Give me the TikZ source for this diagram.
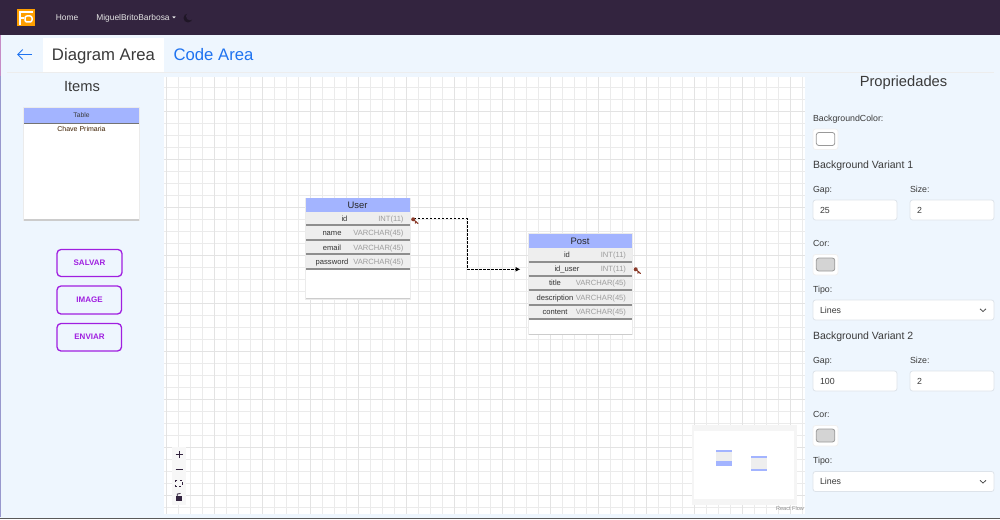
\documentclass[tikz,border=0pt]{standalone}
\usepackage{fontspec}
\setmainfont{Liberation Sans}
\definecolor{navbg}{HTML}{33243F}
\definecolor{panelbg}{HTML}{EEF6FE}
\definecolor{headbg}{HTML}{A3B4FF}
\definecolor{rowbg}{HTML}{EEEEEE}
\definecolor{rowsep}{HTML}{8E8E8E}
\definecolor{typegray}{HTML}{9C9C9C}
\definecolor{inktext}{HTML}{3A3A3A}
\definecolor{linkblue}{HTML}{1F73F0}
\definecolor{btnpurple}{HTML}{A01FE0}
\definecolor{fieldline}{HTML}{DDE3EA}
\definecolor{keyred}{HTML}{8A3B2A}
\newcommand{\px}[1]{\fontsize{#1}{#1}\selectfont}
\tikzset{
  txt/.style={inner sep=0pt, outer sep=0pt, anchor=mid, text=inktext},
  lefttxt/.style={txt, anchor=mid west},
  box/.style={inner sep=0pt, outer sep=0pt, anchor=north west},
  tabtxt/.style={txt, font=\px{16.7}, yshift=-3pt},
  titletxt/.style={txt, font=\px{14.7}, yshift=-3pt},
  vartxt/.style={lefttxt, font=\px{10.5}, yshift=-2pt},
  rowname/.style={txt, font=\px{7.6}, text=black!80, yshift=-.7pt},
  rowtype/.style={txt, anchor=mid east, font=\px{7.6}, text=typegray, yshift=-.7pt},
  headtxt/.style={txt, font=\px{9.4}, text=black!85, yshift=-1pt},
  fieldlabel/.style={lefttxt, font=\px{8.8}, yshift=-.8pt},
  fieldvalue/.style={lefttxt, font=\px{8.8}, yshift=-.5pt},
  fieldbox/.style={draw=fieldline, line width=.8pt, fill=white, rounded corners=2.5pt},
  btnbox/.style={draw=btnpurple, line width=1.3pt, fill=panelbg, rounded corners=4pt},
  btntxt/.style={txt, font=\px{8}\bfseries, text=btnpurple},
  softedge/.style={box, fill=black!8},
  softcore/.style={box, fill=black!20},
  tblline/.style={rowsep, line width=1.5pt},
  key/.style={keyred, line width=1.1pt, line cap=round},
  relation/.style={black, line width=1.2pt, dash pattern=on 2.2pt off 1.8pt, -{Latex[length=5pt,width=5pt]}},
}
\usetikzlibrary{arrows.meta}
\begin{document}
\begin{tikzpicture}[x=1pt,y=-1pt]
\useasboundingbox (0,0) rectangle (1000,519);
% page
\fill[panelbg] (0,0) rectangle (1000,519);
\fill[navbg] (0,0) rectangle (1000,35);
\fill[black!65] (0,517.5) rectangle (1000,519);
\fill[violet!45] (0,35) rectangle (1,76);
\fill[blue!35!gray!60] (0,76) rectangle (1,517);
% navbar
\fill[orange!75!yellow] (17,9) rectangle (35,26);
\draw[white, line width=1.5pt] (33,12) -- (20,12) -- (20,25);
\draw[white, line width=1.5pt] (20,18) -- (24,18);
\draw[white, line width=1.5pt, rounded corners=2pt] (25,16) -- (32,16) -- (32,22) -- (25,22) -- cycle;
\node[txt, font=\px{8.4}, text=white!90!black] (nhome) at (67,17.5) {Home};
\node[txt, font=\px{8.4}, text=white!90!black] (nuser) at (133,17.5) {MiguelBritoBarbosa};
\fill[white!90!black] (172.3,16.5) -- (175.7,16.5) -- (174,18.5) -- cycle;
\fill[black!40!navbg] (188,18) circle (4.5pt);
\fill[navbg] (190,16.3) circle (4pt);
% tabs
\draw[black!7, line width=.6pt] (7,72) -- (994,72);
\node[box, fill=white, minimum width=121pt, minimum height=34pt] (tdiagram) at (43,38) {};
\node[tabtxt] (ldiagram) at (103.5,55) {Diagram Area};
\node[tabtxt, text=linkblue] (lcode) at (213.5,55) {Code Area};
\coordinate (backr) at (32,54.5);
\coordinate (backl) at (17,54.5);
\draw[linkblue, line width=1pt, -{Straight Barb[length=5pt,width=10pt]}] (backr) -- (backl);
% items
\node[titletxt] (litems) at (82,86) {Items};
\node[softedge, minimum width=117pt, minimum height=113.5pt] (cardedge) at (23,107) {};
\node[softcore, minimum width=115pt, minimum height=112.5pt] (cardshadow) at (24,108) {};
\node[box, fill=white, minimum width=115pt, minimum height=111.5pt] (card) at (24,107.5) {};
\node[box, fill=headbg, minimum width=115pt, minimum height=15.5pt] (cardhead) at (24,107.5) {};
\draw[black!55, line width=1pt] (cardhead.south west) -- (cardhead.south east);
\node[txt, font=\px{6.7}] (lcardhead) at (81.5,114.5) {Table};
\node[txt, font=\px{7}, text=black!70!orange!80!black] (lcardkey) at (81.5,128.5) {Chave Primaria};
\node[box, btnbox, minimum width=65pt, minimum height=27pt] (bsalvar) at (57,249.5) {};
\node[btntxt] (lsalvar) at (89.5,262.5) {SALVAR};
\node[box, btnbox, minimum width=64.5pt, minimum height=28pt] (bimage) at (57,286) {};
\node[btntxt] (limage) at (89.5,299.5) {IMAGE};
\node[box, btnbox, minimum width=64.5pt, minimum height=27.5pt] (benviar) at (57,323.5) {};
\node[btntxt] (lenviar) at (89.5,337) {ENVIAR};
% canvas
\node[box, fill=white, minimum width=641pt, minimum height=437pt] (canvas) at (164,77) {};
\begin{scope}
\clip (canvas.north west) rectangle (canvas.south east);
\foreach \gx in {166.5,178.5,...,803}
  \draw[black!8, line width=1.2pt] (\gx,77) -- (\gx,514);
\foreach \gy in {75.5,87.5,...,510}
  \draw[black!8, line width=1.2pt] (164,\gy) -- (805,\gy);
\foreach \gx in {166.5,214.5,...,803}
  \draw[black!11, line width=1.5pt] (\gx,77) -- (\gx,514);
\foreach \gy in {111.5,159.5,...,510}
  \draw[black!11, line width=1.5pt] (164,\gy) -- (805,\gy);
\end{scope}
% table user
\node[softedge, minimum width=105.5pt, minimum height=102pt] (uedge) at (305,197.5) {};
\node[softcore, minimum width=103.5pt, minimum height=101pt] (ushadow) at (306,198) {};
\node[box, fill=white, minimum width=103.5pt, minimum height=100.2pt] (utable) at (306,198) {};
\node[box, fill=headbg, minimum width=103.5pt, minimum height=14pt] (uhead) at (306,198) {};
\node[headtxt] (luser) at (357.5,205) {User};
\node[box, fill=rowbg, minimum width=103.5pt, minimum height=13pt] (urow0) at (306,212) {};
\node[box, fill=rowbg, minimum width=103.5pt, minimum height=13pt] (urow1) at (306,226) {};
\node[box, fill=rowbg, minimum width=103.5pt, minimum height=13pt] (urow2) at (306,241) {};
\node[box, fill=rowbg, minimum width=103.5pt, minimum height=13pt] (urow3) at (306,255) {};
\draw[tblline] (306,225) -- (409.5,225);
\draw[tblline] (306,240) -- (409.5,240);
\draw[tblline] (306,254) -- (409.5,254);
\draw[tblline] (306,269) -- (409.5,269);
\node[rowname] (un0) at (344.5,218) {id};
\node[rowtype] (ut0) at (403.5,218) {INT(11)};
\node[rowname] (un1) at (332,232.5) {name};
\node[rowtype] (ut1) at (403.5,232.5) {VARCHAR(45)};
\node[rowname] (un2) at (332,247) {email};
\node[rowtype] (ut2) at (403.5,247) {VARCHAR(45)};
\node[rowname] (un3) at (332,261) {password};
\node[rowtype] (ut3) at (403.5,261) {VARCHAR(45)};
% table post
\node[softedge, minimum width=105.5pt, minimum height=102pt] (pedge) at (527.5,233) {};
\node[softcore, minimum width=103.5pt, minimum height=101pt] (pshadow) at (528.5,233.5) {};
\node[box, fill=white, minimum width=103.5pt, minimum height=100.2pt] (ptable) at (528.5,233.5) {};
\node[box, fill=headbg, minimum width=103.5pt, minimum height=14pt] (phead) at (528.5,233.5) {};
\node[headtxt] (lpost) at (580,241) {Post};
\node[box, fill=rowbg, minimum width=103.5pt, minimum height=13pt] (prow0) at (528.5,247.5) {};
\node[box, fill=rowbg, minimum width=103.5pt, minimum height=13pt] (prow1) at (528.5,262) {};
\node[box, fill=rowbg, minimum width=103.5pt, minimum height=13pt] (prow2) at (528.5,277) {};
\node[box, fill=rowbg, minimum width=103.5pt, minimum height=13pt] (prow3) at (528.5,291) {};
\node[box, fill=rowbg, minimum width=103.5pt, minimum height=13pt] (prow4) at (528.5,306) {};
\draw[tblline] (528.5,262) -- (632,262);
\draw[tblline] (528.5,276) -- (632,276);
\draw[tblline] (528.5,290) -- (632,290);
\draw[tblline] (528.5,305) -- (632,305);
\draw[tblline] (528.5,319) -- (632,319);
\node[rowname] (pn0) at (567,254) {id};
\node[rowtype] (pt0) at (626,254) {INT(11)};
\node[rowname] (pn1) at (567,268) {id\_user};
\node[rowtype] (pt1) at (626,268) {INT(11)};
\node[rowname] (pn2) at (555,282.5) {title};
\node[rowtype] (pt2) at (626,282.5) {VARCHAR(45)};
\node[rowname] (pn3) at (555,297) {description};
\node[rowtype] (pt3) at (626,297) {VARCHAR(45)};
\node[rowname] (pn4) at (555,311) {content};
\node[rowtype] (pt4) at (626,311) {VARCHAR(45)};
% relation
\coordinate (hsource) at (414,218.7);
\coordinate (hmiddle) at (467.3,244);
\coordinate (htarget) at (520.5,269.3);
\draw[relation] (hsource) -| (hmiddle) |- (htarget);
\fill[keyred] (413.2,219.3) circle (2pt);
\draw[key] (414,220) -- (418,223.5);
\draw[key] (416,222) -- (415.2,223.2);
\fill[keyred] (635.7,269.3) circle (2pt);
\draw[key] (636.5,270) -- (640.5,273.5);
\draw[key] (638.5,272) -- (637.7,273.2);
% controls
\node[box, fill=white!97!black, minimum width=14pt, minimum height=58pt] (ctrls) at (172,447) {};
\coordinate (cplus) at (179,454.5);
\draw[navbg, line width=1pt] ([xshift=-3.5pt]cplus) -- ([xshift=3.5pt]cplus);
\draw[navbg, line width=1pt] ([yshift=-3.5pt]cplus) -- ([yshift=3.5pt]cplus);
\coordinate (cminus) at (179,469);
\draw[navbg, line width=1pt] ([xshift=-3.5pt]cminus) -- ([xshift=3.5pt]cminus);
\draw[navbg, line width=1pt, dash pattern=on 2.2pt off 2.6pt, dash phase=-.1pt] (175.5,480) rectangle (182.5,486);
\fill[navbg] (176,496) rectangle (182,501);
\draw[navbg, line width=.8pt] (177.2,496) -- (177.2,494) -- (180.5,493.5);
% minimap
\node[box, fill=black!4, minimum width=105pt, minimum height=80pt] (minibg) at (691.5,425) {};
\node[box, fill=white, minimum width=100pt, minimum height=68pt] (mini) at (694,431) {};
\node[box, fill=rowbg, minimum width=16pt, minimum height=16.5pt] (mnode1) at (716,449.5) {};
\fill[headbg] (716,449.5) rectangle (732,452);
\fill[headbg] (716,461) rectangle (732,466);
\node[box, fill=rowbg, minimum width=16pt, minimum height=15.5pt] (mnode2) at (751,455.5) {};
\fill[headbg] (751,455.5) rectangle (767,457.5);
\fill[headbg] (751,468.5) rectangle (767,471);
\node[txt, anchor=mid east, font=\px{5.6}, text=black!45] (lflow) at (804,508) {React Flow};
% properties
\node[titletxt] (lprops) at (903.5,81) {Propriedades};
\node[fieldlabel] (lbg) at (813,118) {BackgroundColor:};
\node[box, fieldbox, draw=black!6, minimum width=25pt, minimum height=20.5pt] (sbg) at (813,129) {};
\node[box, draw=black!40, line width=.8pt, fill=white, rounded corners=2.5pt, minimum width=18.5pt, minimum height=13pt] (cbg) at (816.3,132.5) {};
\node[vartxt] (lvar1) at (813,164) {Background Variant 1};
\node[fieldlabel] (lgap1) at (813,189) {Gap:};
\node[fieldlabel] (lsize1) at (910,189) {Size:};
\node[box, fieldbox, minimum width=84pt, minimum height=20pt] (fgap1) at (813,200) {};
\node[box, fieldbox, minimum width=84pt, minimum height=20pt] (fsize1) at (910,200) {};
\node[fieldvalue] (vgap1) at (820,210) {25};
\node[fieldvalue] (vsize1) at (917,210) {2};
\node[fieldlabel] (lcor1) at (813,243.5) {Cor:};
\node[box, fieldbox, draw=black!6, minimum width=25pt, minimum height=20.5pt] (scor1) at (813,254.5) {};
\node[box, draw=black!40, line width=.8pt, fill=black!17, rounded corners=2.5pt, minimum width=18.5pt, minimum height=13pt] (ccor1) at (816.3,258) {};
\node[fieldlabel] (ltipo1) at (813,289) {Tipo:};
\node[box, fieldbox, minimum width=181pt, minimum height=20pt] (ftipo1) at (813,300) {};
\node[fieldvalue] (vtipo1) at (820,310) {Lines};
\draw[black!70, line width=.8pt] (980,308.8) -- (983,311.5) -- (986,308.8);
\node[vartxt] (lvar2) at (813,335) {Background Variant 2};
\node[fieldlabel] (lgap2) at (813,360) {Gap:};
\node[fieldlabel] (lsize2) at (910,360) {Size:};
\node[box, fieldbox, minimum width=84pt, minimum height=20pt] (fgap2) at (813,371) {};
\node[box, fieldbox, minimum width=84pt, minimum height=20pt] (fsize2) at (910,371) {};
\node[fieldvalue] (vgap2) at (820,381) {100};
\node[fieldvalue] (vsize2) at (917,381) {2};
\node[fieldlabel] (lcor2) at (813,414.5) {Cor:};
\node[box, fieldbox, draw=black!6, minimum width=25pt, minimum height=20.5pt] (scor2) at (813,425.5) {};
\node[box, draw=black!40, line width=.8pt, fill=black!17, rounded corners=2.5pt, minimum width=18.5pt, minimum height=13pt] (ccor2) at (816.3,429) {};
\node[fieldlabel] (ltipo2) at (813,460.5) {Tipo:};
\node[box, fieldbox, minimum width=181pt, minimum height=20pt] (ftipo2) at (813,471.5) {};
\node[fieldvalue] (vtipo2) at (820,481.5) {Lines};
\draw[black!70, line width=.8pt] (980,480.3) -- (983,483) -- (986,480.3);
\end{tikzpicture}
\end{document}
